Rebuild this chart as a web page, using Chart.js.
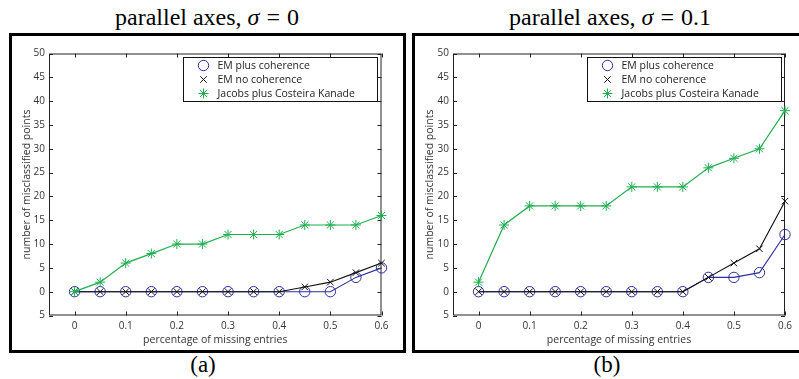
<!DOCTYPE html>
<html>
<head>
<meta charset="utf-8">
<script src="https://cdn.jsdelivr.net/npm/chart.js@4.4.0/dist/chart.umd.min.js"></script>
<style>
  body { margin: 0; background: #fff; width: 799px; height: 379px; overflow: hidden; position: relative; }
  .box { position: absolute; border: 3px solid #000; box-sizing: border-box; }
  .ttl { position: absolute; font-family: "Liberation Serif", "Times New Roman", serif; font-size: 24px;
         white-space: nowrap; transform: translateX(-50%); line-height: 24px; }
  .ttl .eq { padding: 0 7px; }
  .cap { font-size: 23px; }
  canvas { position: absolute; }
</style>
</head>
<body>
<div class="box" style="left:9px;top:33px;width:397px;height:320px"></div>
<div class="box" style="left:412px;top:33px;width:400px;height:320px;border-right:none"></div>
<div class="ttl" style="left:207px;top:5px">parallel axes, <i>σ</i><span class="eq">=</span>0</div>
<div class="ttl" style="left:610px;top:5px">parallel axes, <i>σ</i><span class="eq">=</span>0.1</div>
<div class="ttl cap" style="left:203px;top:353px">(a)</div>
<div class="ttl cap" style="left:607px;top:353px">(b)</div>
<canvas id="chartA" width="391" height="314" style="left:12px;top:36px"></canvas>
<canvas id="chartB" width="384" height="314" style="left:415px;top:36px"></canvas>
<script>
// data
const missing = [0, 0.05, 0.1, 0.15, 0.2, 0.25, 0.3, 0.35, 0.4, 0.45, 0.5, 0.55, 0.6];
const xTicks = [0, 0.1, 0.2, 0.3, 0.4, 0.5, 0.6];
const yTicks = [-5, 0, 5, 10, 15, 20, 25, 30, 35, 40, 45, 50];
const seriesNames = ["EM plus coherence", "EM no coherence", "Jacobs plus Costeira Kanade"];

// panel (a), sigma = 0
const emCohA  = [0, 0, 0, 0, 0, 0, 0, 0, 0, 0, 0, 3, 5];
const emNoA   = [0, 0, 0, 0, 0, 0, 0, 0, 0, 1, 2, 4, 6];
const jacobsA = [0, 2, 6, 8, 10, 10, 12, 12, 12, 14, 14, 14, 16];

// panel (b), sigma = 0.1
const emCohB  = [0, 0, 0, 0, 0, 0, 0, 0, 0, 3, 3, 4, 12];
const emNoB   = [0, 0, 0, 0, 0, 0, 0, 0, 0, 3, 6, 9, 19];
const jacobsB = [2, 14, 18, 18, 18, 18, 22, 22, 22, 26, 28, 30, 38];

const BLUE = "#2b2f9e";
const BLACK = "#111111";
const GREEN = "#1fae4f";
const FONT = "'Open Sans', 'DejaVu Sans', sans-serif";

const styles = [
  { color: BLUE, pointStyle: "circle", radius: 5.2 },
  { color: BLACK, pointStyle: "crossRot", radius: 4.6 },
  { color: GREEN, pointStyle: "star", radius: 5 }
];

function pts(vals) {
  return missing.map((x, i) => ({ x: x, y: vals[i] }));
}

// box, inward ticks (matlab style) and legend inside the plot
const axesPlugin = {
  id: "axesBox",
  beforeDatasetsDraw(chart) {
    const { ctx, chartArea: a, scales } = chart;
    ctx.save();
    ctx.strokeStyle = "#222";
    ctx.lineWidth = 1;
    ctx.strokeRect(a.left + 0.5, a.top + 0.5, a.right - a.left - 1, a.bottom - a.top - 1);
    ctx.beginPath();
    yTicks.forEach(v => {
      const y = Math.round(scales.y.getPixelForValue(v)) + 0.5;
      ctx.moveTo(a.left, y); ctx.lineTo(a.left + 4, y);
      ctx.moveTo(a.right, y); ctx.lineTo(a.right - 4, y);
    });
    xTicks.forEach(v => {
      const x = Math.round(scales.x.getPixelForValue(v)) + 0.5;
      ctx.moveTo(x, a.bottom); ctx.lineTo(x, a.bottom - 4);
      ctx.moveTo(x, a.top); ctx.lineTo(x, a.top + 4);
    });
    ctx.stroke();
    ctx.restore();
  },
  afterDraw(chart) {
    const { ctx, chartArea: a } = chart;
    const w = 194, h = 44;
    const left = Math.round(a.right - 4.5 - w) + 0.5;
    const top = Math.round(a.top + 3) + 0.5;
    ctx.save();
    ctx.fillStyle = "#fff";
    ctx.fillRect(left, top, w, h);
    ctx.strokeStyle = "#111";
    ctx.lineWidth = 1;
    ctx.strokeRect(left, top, w, h);
    ctx.font = "10.5px " + FONT;
    ctx.textBaseline = "middle";
    seriesNames.forEach((name, i) => {
      const y = top + 8 + i * 14;
      const s = styles[i];
      ctx.strokeStyle = s.color;
      ctx.lineWidth = 1;
      Chart.helpers.drawPoint(ctx, { pointStyle: s.pointStyle, radius: s.radius, rotation: 0, borderWidth: 1 }, left + 20, y);
      ctx.fillStyle = "#222";
      ctx.fillText(name, left + 34, y + 0.5);
    });
    ctx.restore();
  }
};

function makeChart(id, series, yWidth, padRight) {
  const datasets = series.map((vals, i) => ({
    label: seriesNames[i],
    data: pts(vals),
    borderColor: styles[i].color,
    backgroundColor: "transparent",
    borderWidth: i === 2 ? 1.2 : 1.1,
    pointStyle: styles[i].pointStyle,
    pointRadius: styles[i].radius,
    pointBorderWidth: 1,
    pointBorderColor: styles[i].color,
    pointBackgroundColor: "transparent",
    tension: 0,
    clip: false,
    order: i === 2 ? 0 : (i === 1 ? 1 : 2)
  }));

  return new Chart(document.getElementById(id), {
    type: "line",
    data: { datasets: datasets },
    plugins: [axesPlugin],
    options: {
      responsive: false,
      animation: false,
      devicePixelRatio: 1,
      layout: { padding: { left: 0, right: padRight, top: 17.5, bottom: 0 } },
      plugins: { legend: { display: false }, tooltip: { enabled: false } },
      scales: {
        x: {
          type: "linear",
          min: -0.05,
          max: 0.6,
          afterBuildTicks: s => { s.ticks = xTicks.map(v => ({ value: v })); },
          afterFit: s => { s.height = 34.5; },
          grid: { display: false, drawTicks: false },
          border: { display: false },
          ticks: { padding: 5, color: "#333", font: { family: FONT, size: 10 }, maxRotation: 0,
                   callback: v => String(v) },
          title: { display: true, text: "percentage of missing entries", color: "#333",
                   font: { family: FONT, size: 10.5 }, padding: { top: 0, bottom: 4 } }
        },
        y: {
          min: -5,
          max: 50,
          afterBuildTicks: s => { s.ticks = yTicks.map(v => ({ value: v })); },
          afterFit: s => { s.width = yWidth; },
          grid: { display: false, drawTicks: false },
          border: { display: false },
          ticks: { padding: 4, color: "#333", font: { family: FONT, size: 10 },
                   callback: v => String(Math.abs(v)) },
          title: { display: true, text: "number of misclassified points", color: "#333",
                   font: { family: FONT, size: 10.5 }, padding: { top: 9, bottom: 0 } }
        }
      }
    }
  });
}

makeChart("chartA", [emCohA, emNoA, jacobsA], 37, 21.5);
makeChart("chartB", [emCohB, emNoB, jacobsB], 38, 14);
</script>
</body>
</html>
